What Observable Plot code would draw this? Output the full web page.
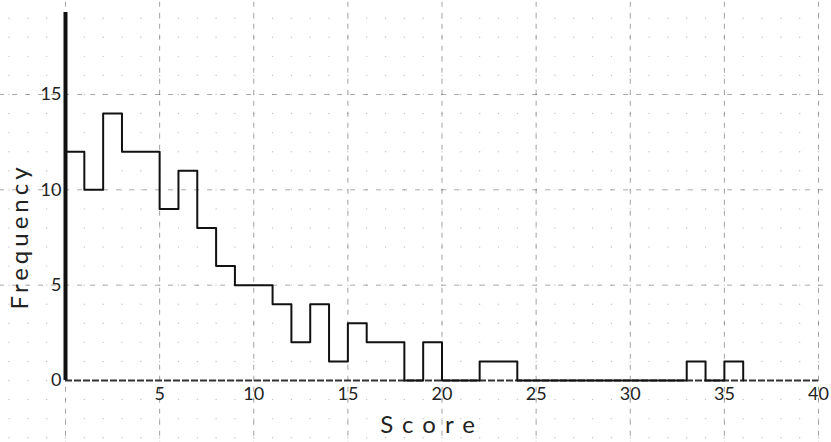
<!DOCTYPE html>
<html>
<head>
<meta charset="utf-8">
<script src="https://cdn.jsdelivr.net/npm/d3@7"></script>
<script src="https://cdn.jsdelivr.net/npm/@observablehq/plot@0.6"></script>
<style>
  html, body { margin: 0; padding: 0; background: #fff; }
  .ylab text { letter-spacing: 4px; }
  .xlab text { letter-spacing: 9px; }
</style>
</head>
<body>
<div id="chart"></div>
<script>
// Histogram outline: score bin start -> frequency (empty bins listed where the outline drops to 0)
const scores    = [0, 1, 2, 3, 4, 5, 6, 7, 8, 9, 10, 11, 12, 13, 14, 15, 16, 17, 18, 19, 20, 21, 22, 23, 24, 33, 34, 35, 36];
const frequency = [12, 10, 14, 12, 12, 9, 11, 8, 6, 5, 5, 4, 2, 4, 1, 3, 2, 2, 0, 2, 0, 0, 1, 1, 0, 1, 0, 1, 0];
const xTicks = [5, 10, 15, 20, 25, 30, 35, 40];
const yTicks = [0, 5, 10, 15];
const gridX = [0, 5, 10, 15, 20, 25, 30, 35, 40];
const gridY = [5, 10, 15];

const data = scores.map((s, i) => ({score: s, freq: frequency[i]}));
const dotGrid = d3.cross(d3.range(-3, 41), d3.range(-3, 21)).map(([x, y]) => ({x, y}));

const font = "Lato, 'Open Sans', sans-serif";

const chart = Plot.plot({
  width: 831,
  height: 442,
  marginLeft: 65,
  marginRight: 13,
  marginTop: 12,
  marginBottom: 62,
  style: {fontFamily: font, background: "#fff"},
  x: {domain: [0, 40]},
  y: {domain: [0, 19.3]},
  marks: [
    Plot.dot(dotGrid, {x: "x", y: "y", r: 0.7, fill: "#aaa", stroke: null, fillOpacity: 0.7}),
    Plot.ruleX(gridX, {y1: -3.5, y2: 20.5, stroke: "#555", strokeWidth: 1, strokeDasharray: "5,6", strokeOpacity: 0.55}),
    Plot.ruleY(gridY, {x1: -3.5, x2: 41, stroke: "#555", strokeWidth: 1, strokeDasharray: "5,8", strokeOpacity: 0.5}),
    Plot.ruleY([0], {x1: 0, x2: 40, stroke: "#333", strokeWidth: 2, strokeDasharray: "7,2"}),
    Plot.line(data, {x: "score", y: "freq", curve: "step-after", stroke: "#111", strokeWidth: 2}),
    Plot.ruleX([0], {y1: 0, y2: 19.3, stroke: "#111", strokeWidth: 4}),
    Plot.axisX({ticks: xTicks, tickSize: 0, tickPadding: 7, fontSize: 18, label: null, fill: "#222"}),
    Plot.axisY({ticks: yTicks, tickSize: 0, tickPadding: 4, fontSize: 18, label: null, fill: "#222"}),
    Plot.text(["Frequency"], {frameAnchor: "left", textAnchor: "middle", dx: -45, dy: 40, rotate: -90, fontSize: 24, fill: "#222", className: "ylab"}),
    Plot.text(["Score"], {frameAnchor: "bottom", dx: -10, dy: 52, fontSize: 24, fill: "#222", className: "xlab"})
  ]
});
document.getElementById("chart").appendChild(chart);
</script>
</body>
</html>
